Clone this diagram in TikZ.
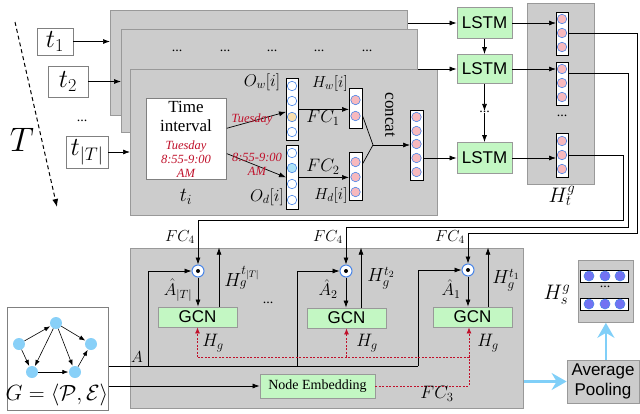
\RequirePackage{fix-cm}
\documentclass[tikz,border=0pt]{standalone}
\usepackage{fontspec}
\setmainfont{Liberation Serif}
\newfontfamily\sansf{Liberation Sans}
\usetikzlibrary{arrows.meta,calc}
\definecolor{panelgray}{HTML}{CCCCCC}
\definecolor{panelline}{HTML}{999999}
\definecolor{boxgreen}{HTML}{C3F7C3}
\definecolor{circblue}{HTML}{4A86E8}
\definecolor{pinkfill}{HTML}{F7B9BE}
\definecolor{orangefill}{HTML}{F9DFAE}
\definecolor{cyanfill}{HTML}{AEE2F7}
\definecolor{purplefill}{HTML}{7272F2}
\definecolor{darkred}{HTML}{C0102A}
\definecolor{skyb}{HTML}{80CFF8}
\definecolor{nodeb}{HTML}{88D0F8}
\begin{document}
\begin{tikzpicture}[x=1pt,y=-1pt,
  panel/.style={draw=panelline,fill=panelgray,line width=0.8pt,anchor=north west,inner sep=0pt},
  whitebox/.style={draw=gray,fill=white,line width=0.8pt,anchor=north west,inner sep=0pt},
  vecbox/.style={draw=black,fill=white,line width=0.8pt,anchor=north west,inner sep=0pt},
  cell/.style={circle,draw=circblue,fill=white,line width=0.6pt,minimum size=9.5pt,inner sep=0pt},
  pcell/.style={cell,fill=pinkfill},
  scell/.style={cell,fill=purplefill,minimum size=10pt},
  greenbox/.style={draw=panelline,fill=boxgreen,line width=0.8pt,inner sep=0pt,font=\sansf\fontsize{17}{17}\selectfont},
  tbox/.style={draw=gray,fill=white,line width=0.8pt,inner sep=0pt,font=\fontsize{26}{26}\selectfont},
  odotc/.style={circle,draw=circblue,fill=white,line width=1pt,minimum size=12pt,inner sep=0pt},
  gnode/.style={circle,fill=nodeb,minimum size=12pt,inner sep=0pt},
  arr/.style={-{Latex[length=7pt,width=5pt]},line width=0.7pt},
  garr/.style={-{Latex[length=6pt,width=4.5pt]},line width=0.6pt,shorten >=0.5pt},
  reddot/.style={draw=darkred,dash pattern=on 2pt off 1.5pt,line width=0.8pt},
  redarr/.style={reddot,-{Latex[length=6pt,width=5pt]}},
  bigarr/.style={draw=skyb,line width=2.5pt,-{Stealth[length=15pt,width=17pt,inset=5pt]}},
  lab/.style={inner sep=0pt,font=\fontsize{17}{17}\selectfont},
  dotlab/.style={inner sep=0pt,font=\fontsize{14}{14}\selectfont},
  redlab/.style={inner sep=0pt,text=darkred,align=center,font=\fontsize{12.5}{14}\selectfont\itshape}
]
\useasboundingbox (0,0) rectangle (640,413);

% ---------- stacked panels ----------
\node[panel,minimum width=297pt,minimum height=105pt] (p1) at (110,10) {};
\node[panel,minimum width=296pt,minimum height=103pt] (p2) at (121,29) {};
\foreach \x [count=\i] in {177,225,272,319,367} \node[dotlab] (pd\i) at (\x,51) {...};
\node[panel,minimum width=307pt,minimum height=146pt] (p3) at (130,69) {};

% ---------- T and t boxes ----------
\coordinate (ts) at (15,22);
\coordinate (te) at (57,207);
\draw[dashed,dash pattern=on 4pt off 3pt,line width=1pt,-{Latex[length=8pt,width=6pt]}] (ts) -- (te);
\node[inner sep=0pt,font=\fontsize{34}{34}\selectfont] (Tl) at (22,140) {$T$};
\node[tbox,minimum width=36pt,minimum height=27pt] (t1) at (55,41.5) {$t_1$};
\node[tbox,minimum width=40pt,minimum height=31pt] (t2) at (68,81.5) {$t_2$};
\node[dotlab] (tdots) at (82,121) {...};
\node[tbox,minimum width=42pt,minimum height=32pt] (tT) at (87,152) {$t_{|T|}$};
\draw[arr] (t1.east) -- (t1.east -| p1.west);
\draw[arr] (t2.east) -- (t2.east -| p2.west);
\draw[arr] (tT.east) -- (tT.east -| p3.west);

% ---------- time interval ----------
\node[whitebox,minimum width=80pt,minimum height=81pt] (tib) at (146,98) {};
\node[inner sep=0pt,align=center,font=\fontsize{17}{19}\selectfont] (tit) at (186,116.5) {Time\\interval};
\node[redlab] (tir) at (186,159) {Tuesday\\8:55-9:00\\AM};
\node[inner sep=0pt,font=\fontsize{20}{20}\selectfont] (til) at (186,197) {$t_i$};

% ---------- O vectors ----------
\node[vecbox,minimum width=12pt,minimum height=62pt] (owv) at (286,78) {};
\node[cell] (ow1) at (292,86) {};
\node[cell] (ow2) at (292,101) {};
\node[cell,fill=orangefill] (ow3) at (292,117) {};
\node[cell] (ow4) at (292,132) {};
\node[vecbox,minimum width=12pt,minimum height=64pt] (odv) at (286,145) {};
\node[cell] (od1) at (292,153) {};
\node[cell,fill=cyanfill] (od2) at (292,168) {};
\node[cell] (od3) at (292,184) {};
\node[cell] (od4) at (292,200) {};
\node[lab] (owl) at (262,82) {$O_w[i]$};
\node[lab] (odl) at (267,197) {$O_d[i]$};

\draw[arr] ($(tib.north east)!0.37!(tib.south east)$) -- ($(owv.west)+(0,2.5)$);
\draw[arr] ($(tib.north east)!0.68!(tib.south east)$) -- (odv.west);
\node[redlab] (tue) at (252,120) {Tuesday};
\node[redlab] (tim) at (257,164) {8:55-9:00\\AM};

% ---------- H vectors ----------
\node[vecbox,minimum width=13pt,minimum height=40pt] (hwv) at (349,88) {};
\node[pcell] (hw1) at (355.5,100) {};
\node[pcell] (hw2) at (355.5,116) {};
\node[vecbox,minimum width=13pt,minimum height=48pt] (hdv) at (349,152) {};
\node[pcell] (hd1) at (355.5,162) {};
\node[pcell] (hd2) at (355.5,177) {};
\node[pcell] (hd3) at (355.5,192) {};
\node[lab,font=\fontsize{16}{16}\selectfont] (hwl) at (330,83) {$H_w[i]$};
\node[lab,font=\fontsize{16}{16}\selectfont] (hdl) at (331,195) {$H_d[i]$};

\draw[arr] (owv.east) -- (owv.east -| hwv.west);
\draw[arr] (odv.east) -- (odv.east -| hdv.west);
\node[lab,font=\fontsize{18}{18}\selectfont] (fc1) at (323,118) {$FC_1$};
\node[lab,font=\fontsize{18}{18}\selectfont] (fc2) at (323,167) {$FC_2$};

% ---------- concat ----------
\node[vecbox,minimum width=13pt,minimum height=70pt] (ccv) at (410,110) {};
\foreach \y [count=\i] in {117,131,144,158,172} \node[pcell] (cc\i) at (416.5,\y) {};
\coordinate (cj) at (373,145);
\draw[line width=0.7pt] ($(hwv.east)+(0,8)$) -- (cj) -- ($(hdv.east)+(0,-13)$);
\draw[arr] (cj) -- (cj -| ccv.west);
\node[inner sep=0pt,rotate=-90,font=\fontsize{17}{17}\selectfont] (ccl) at (390,115) {concat};

% ---------- LSTMs ----------
\node[greenbox,minimum width=55pt,minimum height=31pt] (L1) at (484.5,23) {LSTM};
\node[greenbox,minimum width=55pt,minimum height=29pt] (L2) at (484.5,69) {LSTM};
\node[dotlab] (Ld) at (484.5,112) {...};
\node[greenbox,minimum width=55pt,minimum height=31pt] (L3) at (484.5,158) {LSTM};
\draw[arr] (p1.east |- L1.west) -- (L1.west);
\draw[arr] (p2.east |- L2.west) -- (L2.west);
\draw[arr] (ccv.east |- L3.west) -- (L3.west);
\draw[arr] (L1.south) -- (L2.north);
\draw[arr] (L2.south) -- (Ld.north);
\draw[arr] (Ld.south) -- (L3.north);

% ---------- H_t^g panel ----------
\node[panel,minimum width=67pt,minimum height=181pt] (htp) at (527,3) {};
\node[vecbox,minimum width=12pt,minimum height=43pt] (v1) at (556,12) {};
\node[pcell] (v1a) at (562,19) {};
\node[pcell] (v1b) at (562,33) {};
\node[pcell] (v1c) at (562,47) {};
\node[vecbox,minimum width=12pt,minimum height=43pt] (v2) at (556,62) {};
\node[pcell] (v2a) at (562,69) {};
\node[pcell] (v2b) at (562,83) {};
\node[pcell] (v2c) at (562,97) {};
\node[dotlab] (vd) at (562,116) {...};
\node[vecbox,minimum width=12pt,minimum height=44pt] (v3) at (556,133) {};
\node[pcell] (v3a) at (562,141) {};
\node[pcell] (v3b) at (562,155) {};
\node[pcell] (v3c) at (562,169) {};
\node[lab,font=\fontsize{21}{21}\selectfont] (htl) at (562,196) {$H_t^g$};
\draw[arr] (L1.east) -- (L1.east -| v1.west);
\draw[arr] (L2.east) -- (L2.east -| v2.west);
\draw[arr] (L3.east) -- (L3.east -| v3.west);

% ---------- GCN panel ----------
\node[panel,minimum width=393pt,minimum height=160pt] (gp) at (130,248) {};
\node[odotc] (m1) at (198,271) {};
\node[odotc] (m2) at (346,271) {};
\node[odotc] (m3) at (468,270) {};
\fill (m1) circle (2);
\fill (m2) circle (2);
\fill (m3) circle (2);
\node[greenbox,minimum width=79pt,minimum height=20pt] (g1) at (197.5,317) {GCN};
\node[greenbox,minimum width=79pt,minimum height=20pt] (g2) at (346.5,318) {GCN};
\node[greenbox,minimum width=79pt,minimum height=20pt] (g3) at (472.5,317) {GCN};
\draw[arr] (m1.south) -- (m1.south |- g1.north);
\draw[arr] (m2.south) -- (m2.south |- g2.north);
\draw[arr] (m3.south) -- (m3.south |- g3.north);
\draw[arr] ($(g1.north)+(21.5,0)$) -- ++(0,-59);
\draw[arr] ($(g2.north)+(14.5,0)$) -- ++(0,-60);
\draw[arr] ($(g3.north)+(15.5,0)$) -- ++(0,-59);
\node[dotlab] (gdots) at (268,303) {...};

% lines from H_t^g
\coordinate (k1) at (637,233);
\coordinate (k2) at (628,227);
\coordinate (k3) at (623,220);
\draw[arr] (v1b -| v1.east) -| (k1) -| (m3.north);
\draw[arr] ($(v2.north east)!0.25!(v2.south east)$) -| (k2) -| (m2.north);
\draw[arr] (v3b -| v3.east) -| (k3) -| (m1.north);
\node[lab,font=\fontsize{16}{16}\selectfont] (fc4a) at (180,237) {$FC_4$};
\node[lab,font=\fontsize{16}{16}\selectfont] (fc4b) at (328,237) {$FC_4$};
\node[lab,font=\fontsize{16}{16}\selectfont] (fc4c) at (450,237) {$FC_4$};

\node[lab,font=\fontsize{19}{19}\selectfont] (hg1) at (242,278) {$H_g^{t_{|T|}}$};
\node[lab,font=\fontsize{19}{19}\selectfont] (hg2) at (381,278) {$H_g^{t_2}$};
\node[lab,font=\fontsize{19}{19}\selectfont] (hg3) at (506,280) {$H_g^{t_1}$};
\node[lab] (ah1) at (178,290) {$\hat{A}_{|T|}$};
\node[lab] (ah2) at (328,289) {$\hat{A}_2$};
\node[lab] (ah3) at (451,289) {$\hat{A}_1$};

% ---------- graph box ----------
\node[whitebox,minimum width=101pt,minimum height=103pt] (gb) at (7,307) {};
\node[gnode] (n1) at (56,323) {};
\node[gnode] (n2) at (19,344) {};
\node[gnode] (n3) at (91,344) {};
\node[gnode] (n4) at (32,372) {};
\node[gnode] (n5) at (75,372) {};
\draw[garr] (n2) -- (n1);
\draw[garr] (n1) -- (n3);
\draw[garr] (n1) -- (n4);
\draw[garr] (n1) -- (n5);
\draw[garr] (n2) -- (n4);
\draw[garr] (n4) -- (n5);
\draw[garr] (n5) -- (n3);
\node[inner sep=0pt,font=\fontsize{22}{22}\selectfont] (gl) at (57,395) {$G=\langle\mathcal{P},\mathcal{E}\rangle$};

% ---------- A lines ----------
\coordinate (aend) at (418,366);
\coordinate (ab1) at (148,366);
\coordinate (ab2) at (297,366);
\draw[line width=0.7pt] (aend -| gb.east) -- (aend);
\draw[arr] (ab1) |- (m1.west);
\draw[arr] (ab2) |- (m2.west);
\draw[arr] (aend) |- (m3.west);
\node[lab,font=\fontsize{16}{16}\selectfont] (al) at (137,357) {$A$};

% ---------- node embedding ----------
\node[greenbox,font=\fontsize{14}{14}\selectfont,minimum width=115pt,minimum height=24pt] (ne) at (317.5,386) {Node Embedding};
\draw[arr] (ne.west -| gb.east) -- (ne.west);
\coordinate (rc) at (469,357);
\draw[reddot] (ne.east) -| (rc);
\draw[redarr] (rc) -- (rc |- g3.south);
\draw[reddot] (rc) -- (rc -| g1.south);
\draw[redarr] (rc -| g1.south) -- (g1.south);
\draw[redarr] (rc -| g2.south) -- (g2.south);
\node[lab,font=\fontsize{18}{18}\selectfont] (hga) at (213,343) {$H_g$};
\node[lab,font=\fontsize{18}{18}\selectfont] (hgb) at (367,343) {$H_g$};
\node[lab,font=\fontsize{18}{18}\selectfont] (hgc) at (488,343) {$H_g$};
\node[lab,font=\fontsize{18}{18}\selectfont] (fc3) at (437,394) {$FC_3$};

% ---------- pooling ----------
\node[greenbox,fill=panelgray,align=center,font=\sansf\fontsize{17}{20}\selectfont,minimum width=72pt,minimum height=43pt] (ap) at (603,381.5) {Average\\Pooling};
\node[panel,minimum width=55pt,minimum height=62pt] (hs) at (578,260) {};
\node[vecbox,minimum width=48pt,minimum height=12pt] (s1) at (580,270) {};
\node[vecbox,minimum width=48pt,minimum height=12pt] (s2) at (580,298) {};
\foreach \x [count=\i] in {589,605,620} {
  \node[scell] (s1c\i) at (\x,276) {};
  \node[scell] (s2c\i) at (\x,304) {};
}
\node[dotlab] (sd) at (605,287) {...};
\node[lab,font=\fontsize{21}{21}\selectfont] (hsl) at (557,295) {$H_s^g$};
\draw[bigarr] (gp.east |- ap.west) -- (ap.west);
\draw[bigarr] (hs.south |- ap.north) -- (hs.south);
\end{tikzpicture}
\end{document}
